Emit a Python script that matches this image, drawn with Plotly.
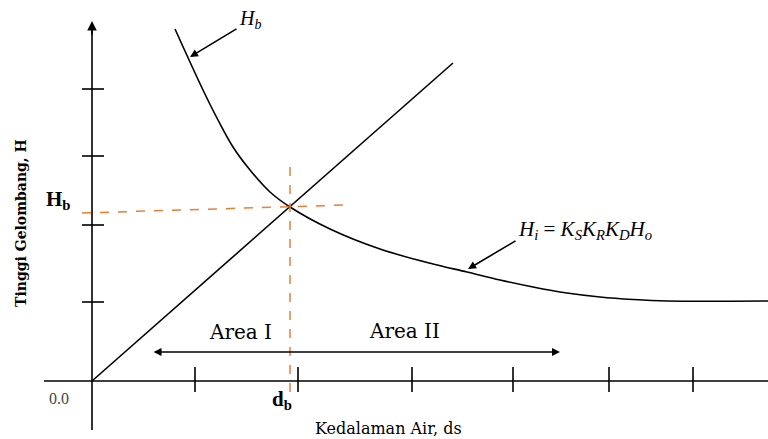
import plotly.graph_objects as go

# ---- data (arbitrary schematic units; origin at axis crossing) ----
curve_x = [83, 111, 126, 141, 158, 178, 198, 238, 288, 341, 375, 408, 441, 475, 508, 541, 575, 676]
curve_y = [352, 291, 261, 234, 211, 189, 174, 152, 132, 117, 109, 101, 94, 88, 84, 81.5, 80, 80]
line_x = [0, 361]
line_y = [0, 318]
x_ticks = [103, 206, 320, 421, 517, 601]
y_ticks = [79, 156, 225, 292]
db_x = 198
hb_y = 174

fig = go.Figure()
fig.add_trace(go.Scatter(x=curve_x, y=curve_y, mode="lines",
                         line=dict(color="black", width=1.6, shape="spline", smoothing=1.0),
                         hoverinfo="skip", showlegend=False))
fig.add_trace(go.Scatter(x=line_x, y=line_y, mode="lines",
                         line=dict(color="black", width=1.6),
                         hoverinfo="skip", showlegend=False))

shapes = []
# axes
shapes.append(dict(type="line", x0=-48, x1=676, y0=0, y1=0, line=dict(color="black", width=1.6)))
shapes.append(dict(type="line", x0=0, x1=0, y0=-49, y1=355, line=dict(color="black", width=1.6)))
for t in x_ticks:
    shapes.append(dict(type="line", x0=t, x1=t, y0=-11, y1=14, line=dict(color="black", width=1.6)))
for t in y_ticks:
    shapes.append(dict(type="line", x0=-10, x1=12, y0=t, y1=t, line=dict(color="black", width=1.6)))
# orange dashed guides
orange = "#ED7D31"
shapes.append(dict(type="line", x0=-10, x1=254, y0=hb_y - 6, y1=hb_y + 2,
                   line=dict(color=orange, width=1.5, dash="dash")))
shapes.append(dict(type="line", x0=db_x, x1=db_x, y0=-11, y1=216,
                   line=dict(color=orange, width=1.5, dash="dash")))

serif = "Liberation Serif"
wide = "DejaVu Serif"
ann = []
# y-axis arrow
ann.append(dict(x=0, y=360, ax=0, ay=345, xref="x", yref="y", axref="x", ayref="y",
                showarrow=True, arrowhead=2, arrowsize=1.2, arrowwidth=1.6, arrowcolor="black", text=""))
# Hb arrow
ann.append(dict(x=98, y=324, ax=146, ay=353, xref="x", yref="y", axref="x", ayref="y",
                showarrow=True, arrowhead=2, arrowsize=1, arrowwidth=1.6, arrowcolor="black", text=""))
# Hi arrow
ann.append(dict(x=376, y=112, ax=425, ay=141, xref="x", yref="y", axref="x", ayref="y",
                showarrow=True, arrowhead=2, arrowsize=1, arrowwidth=1.6, arrowcolor="black", text=""))
# Area double arrow
ann.append(dict(x=468, y=29, ax=60, ay=29, xref="x", yref="y", axref="x", ayref="y",
                showarrow=True, arrowhead=2, startarrowhead=2, arrowside="end+start",
                arrowsize=1, startarrowsize=1, arrowwidth=1.6, arrowcolor="black", text=""))

def txt(x, y, s, size, xanchor="center", color="black", angle=0, family=serif):
    ann.append(dict(x=x, y=y, xref="x", yref="y", text=s, showarrow=False,
                    xanchor=xanchor, yanchor="middle", textangle=angle,
                    font=dict(family=family, size=size, color=color)))

txt(145, 362, "<i>H<sub>b</sub></i>", 20, xanchor="left")
txt(424, 151, "<i>H<sub>i</sub></i> = <i>K<sub>S</sub>K<sub>R</sub>K<sub>D</sub>H<sub>o</sub></i>", 21, xanchor="left")
txt(-34, 181, "<b>H<sub>b</sub></b>", 21)
txt(190, -19, "<b>d<sub>b</sub></b>", 21)
txt(-33, -17, "0.0", 16, color="#444444")
txt(148, 49, "Area I", 20, family=wide)
txt(312, 50, "Area II", 20, family=wide)
txt(296, -47, "Kedalaman Air, ds", 16, family=wide)
txt(-71, 158, "<b>Tinggi Gelombang, H</b>", 14, angle=-90, family=wide)

fig.update_layout(
    width=768, height=439,
    margin=dict(l=0, r=0, t=0, b=0),
    paper_bgcolor="white", plot_bgcolor="white",
    xaxis=dict(range=[-92, 676], visible=False, fixedrange=True),
    yaxis=dict(range=[-58, 381], visible=False, fixedrange=True),
    shapes=shapes, annotations=ann, showlegend=False,
)
fig.write_html("out.html", config={"displayModeBar": False})

# remove the browser's default page margin so the figure sits at (0, 0)
with open("out.html", "r", encoding="utf-8") as f:
    html = f.read()
html = html.replace("<head>", "<head><style>html,body{margin:0;padding:0;overflow:hidden;}</style>", 1)
with open("out.html", "w", encoding="utf-8") as f:
    f.write(html)
